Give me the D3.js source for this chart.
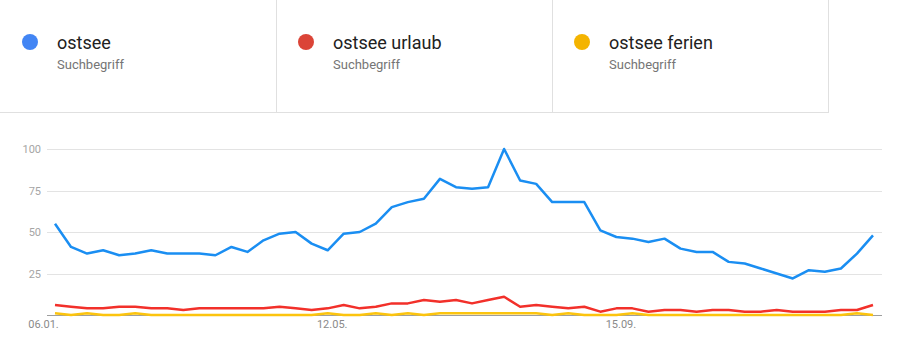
<!DOCTYPE html>
<html>
<head>
<meta charset="utf-8">
<script src="https://cdn.jsdelivr.net/npm/d3@7"></script>
<style>
  html, body { margin: 0; padding: 0; background: #fff; }
  svg { display: block; font-family: Roboto, "Noto Sans", Arial, sans-serif; }
</style>
</head>
<body>
<svg id="chart" width="910" height="349"></svg>
<script>
// Weekly interest, 52 weeks starting 06.01.
const seriesNames = ["ostsee", "ostsee urlaub", "ostsee ferien"];
const seriesSub = "Suchbegriff";
const dotColors = ["#4285f4", "#db4437", "#f4b400"];
const lineColors = ["#1a8ef2", "#f2302a", "#fcc40e"];

const ostsee = [55, 41, 37, 39, 36, 37, 39, 37, 37, 37, 36, 41, 38, 45, 49, 50,
  43, 39, 49, 50, 55, 65, 68, 70, 82, 77, 76, 77, 100, 81, 79, 68, 68, 68,
  51, 47, 46, 44, 46, 40, 38, 38, 32, 31, 28, 25, 22, 27, 26, 28, 37, 48];
const ostseeUrlaub = [6, 5, 4, 4, 5, 5, 4, 4, 3, 4, 4, 4, 4, 4, 5, 4,
  3, 4, 6, 4, 5, 7, 7, 9, 8, 9, 7, 9, 11, 5, 6, 5, 4, 5,
  2, 4, 4, 2, 3, 3, 2, 3, 3, 2, 2, 3, 2, 2, 2, 3, 3, 6];
const ostseeFerien = [1, 0, 1, 0, 0, 1, 0, 0, 0, 0, 0, 0, 0, 0, 0, 0,
  0, 1, 0, 0, 1, 0, 1, 0, 1, 1, 1, 1, 1, 1, 1, 0, 1, 0,
  0, 0, 1, 0, 0, 0, 0, 0, 0, 0, 0, 0, 0, 0, 0, 0, 1, 0];

const yTicks = [0, 25, 50, 75, 100];
const xTickIndex = [0, 18, 36];
const xTickLabels = ["06.01.", "12.05.", "15.09."];

const svg = d3.select("#chart");

// ---- legend cards ----
const cardW = 276, cardH = 112;
const legend = svg.append("g");
seriesNames.forEach((name, i) => {
  const g = legend.append("g").attr("transform", `translate(${i * cardW},0)`);
  g.append("circle").attr("cx", 30).attr("cy", 42).attr("r", 8).attr("fill", dotColors[i]);
  g.append("text").attr("x", 57).attr("y", 49).attr("font-size", 18)
    .attr("fill", "#212121").text(name);
  g.append("text").attr("x", 57).attr("y", 69).attr("font-size", 13)
    .attr("fill", "#757575").text(seriesSub);
  g.append("line").attr("x1", cardW + 0.5).attr("x2", cardW + 0.5)
    .attr("y1", 0).attr("y2", cardH).attr("stroke", "#e0e0e0");
});
legend.append("line").attr("x1", 0).attr("x2", cardW * 3 + 1)
  .attr("y1", cardH + 0.5).attr("y2", cardH + 0.5).attr("stroke", "#e0e0e0");

// ---- plot ----
const plotLeft = 47, plotRight = 882, plotTop = 149, plotBottom = 315;
const firstX = 55, lastX = 873;

const x = d3.scaleLinear().domain([0, ostsee.length - 1]).range([firstX, lastX]);
const y = d3.scaleLinear().domain([0, 100]).range([plotBottom, plotTop]);

const grid = svg.append("g");
grid.selectAll("line").data(yTicks.filter(t => t > 0)).join("line")
  .attr("x1", plotLeft).attr("x2", plotRight)
  .attr("y1", d => Math.round(y(d)) + 0.5).attr("y2", d => Math.round(y(d)) + 0.5)
  .attr("stroke", "#e3e3e3");

const yAxis = d3.axisLeft(y).tickValues(yTicks.filter(t => t > 0)).tickSize(0).tickPadding(6);
const yG = svg.append("g").attr("transform", `translate(${plotLeft},0)`).call(yAxis);
yG.select(".domain").remove();
yG.selectAll("text").attr("font-size", 11).attr("fill", "#a5a5a5")
  .attr("font-family", "Roboto, sans-serif");

// baseline
svg.append("line").attr("x1", plotLeft).attr("x2", plotRight)
  .attr("y1", plotBottom + 0.5).attr("y2", plotBottom + 0.5).attr("stroke", "#9e9e9e");

// x labels
const xAxis = d3.axisBottom(x).tickValues(xTickIndex)
  .tickFormat((d, i) => xTickLabels[i]).tickSize(0).tickPadding(5);
const xG = svg.append("g").attr("transform", `translate(-12,${plotBottom})`).call(xAxis);
xG.select(".domain").remove();
xG.selectAll("text").attr("font-size", 11).attr("fill", "#8a8a8a")
  .attr("font-family", "Roboto, sans-serif");

// series lines
const line = d3.line().x((d, i) => x(i)).y(d => y(d));
[ostsee, ostseeUrlaub, ostseeFerien].forEach((vals, k) => {
  svg.append("path").datum(vals)
    .attr("d", line)
    .attr("fill", "none")
    .attr("stroke", lineColors[k])
    .attr("stroke-width", 2.5)
    .attr("stroke-linejoin", "round");
});
</script>
</body>
</html>
